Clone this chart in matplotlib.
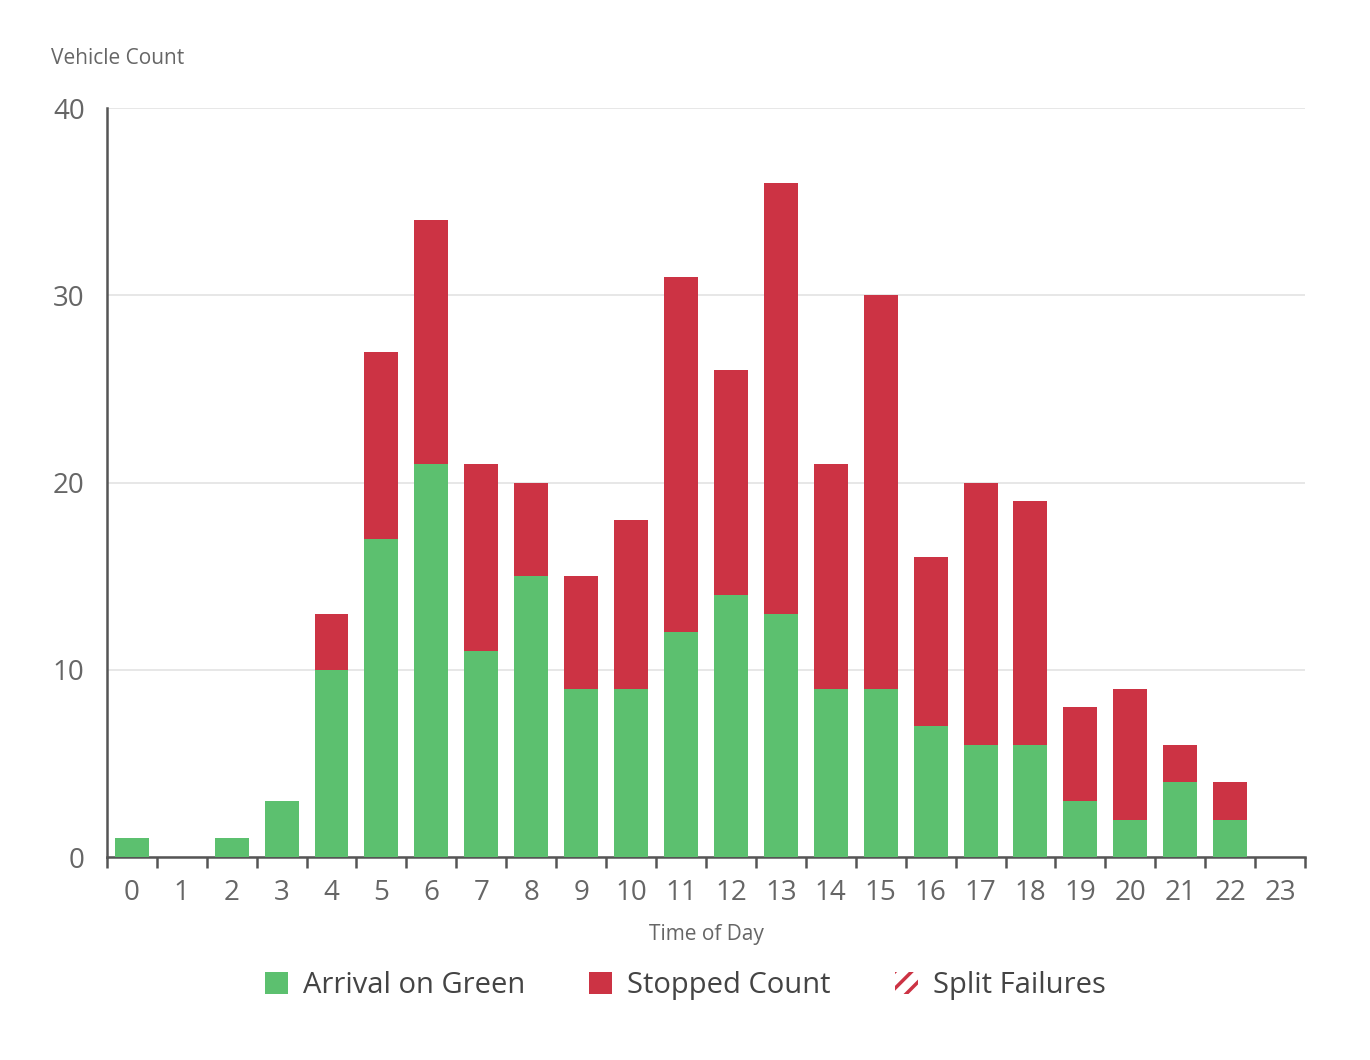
import matplotlib.pyplot as plt
from matplotlib.patches import Patch
import numpy as np

plt.rcParams['font.family'] = ['Open Sans', 'DejaVu Sans']
plt.rcParams['hatch.linewidth'] = 2.5

hours = [str(h) for h in range(24)]
arrival_on_green = [1, 0, 1, 3, 10, 17, 21, 11, 15, 9, 9, 12, 14, 13, 9, 9, 7, 6, 6, 3, 2, 4, 2, 0]
stopped_count = [0, 0, 0, 0, 3, 10, 13, 10, 5, 6, 9, 19, 12, 23, 12, 21, 9, 14, 13, 5, 7, 2, 2, 0]
split_failures = [0] * 24

GREEN = '#5cc06f'
RED = '#cc3344'
AXIS = '#555555'
TEXT = '#666666'

fig = plt.figure(figsize=(13.7, 10.6), dpi=100)
ax = fig.add_axes([0.078, 0.1915, 0.8746, 0.7065])

x = np.arange(len(hours))
green = np.array(arrival_on_green)
red = np.array(stopped_count)
ax.bar(x, green, width=0.68, color=GREEN, zorder=3)
ax.bar(x, red, width=0.68, bottom=green, color=RED, zorder=3)
ax.bar(x, split_failures, width=0.68, bottom=green + red, color='none',
       edgecolor=RED, hatch='//', linewidth=0, zorder=3)

ax.set_xlim(-0.5, 23.5)
ax.set_ylim(0, 40)
ax.set_yticks([0, 10, 20, 30, 40])
ax.grid(axis='y', color='#e3e3e3', linewidth=1.2, zorder=0)

ax.set_xticks(x)
ax.set_xticklabels(hours)
ax.set_xticks(np.arange(-0.5, 24, 1), minor=True)
ax.tick_params(axis='x', which='major', length=0, pad=16, labelsize=20, labelcolor=TEXT)
ax.tick_params(axis='x', which='minor', length=8, width=1.8, color=AXIS, direction='out')
ax.tick_params(axis='y', length=0, pad=16, labelsize=20, labelcolor=TEXT)

for s in ['top', 'right']:
    ax.spines[s].set_visible(False)
for s in ['left', 'bottom']:
    ax.spines[s].set_color(AXIS)
    ax.spines[s].set_linewidth(1.8)

ax.set_xlabel('Time of Day', fontsize=15, color=TEXT, labelpad=12)
fig.text(0.037, 0.945, 'Vehicle Count', fontsize=15, color=TEXT, ha='left', va='center')

handles = [
    Patch(facecolor=GREEN, edgecolor='none', label='Arrival on Green'),
    Patch(facecolor=RED, edgecolor='none', label='Stopped Count'),
    Patch(facecolor='white', edgecolor=RED, hatch='//', linewidth=0, label='Split Failures'),
]
fig.legend(handles=handles, loc='center', bbox_to_anchor=(0.5, 0.07), ncol=3,
           frameon=False, fontsize=21, handlelength=0.8, handleheight=0.8,
           handletextpad=0.5, columnspacing=2.2, labelcolor='#444444')

fig.savefig('out.png', dpi=100, facecolor='white')
